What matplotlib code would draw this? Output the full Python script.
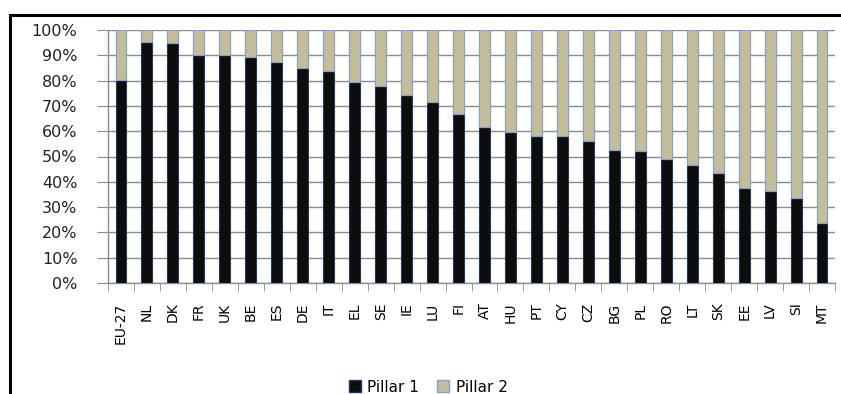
import numpy as np
import matplotlib.pyplot as plt
from matplotlib.patches import Rectangle
from matplotlib.ticker import FixedLocator, FuncFormatter

countries = ["EU-27", "NL", "DK", "FR", "UK", "BE", "ES", "DE", "IT", "EL", "SE", "IE",
             "LU", "FI", "AT", "HU", "PT", "CY", "CZ", "BG", "PL", "RO", "LT", "SK",
             "EE", "LV", "SI", "MT"]
pillar1 = [80.2, 95.1, 94.7, 90.1, 90.0, 89.3, 87.5, 85.0, 83.9, 79.3, 77.7, 74.4,
           71.7, 66.9, 61.5, 59.7, 58.0, 58.0, 56.1, 52.4, 52.0, 48.9, 46.8, 43.5,
           37.7, 36.5, 33.6, 23.6]
pillar2 = [100 - v for v in pillar1]

black = "#0d0d0d"
tan = "#c4bd97"
grid_col = "#8c8c8c"

plt.rcParams["font.family"] = "DejaVu Sans"

W, H = 841, 394
fig = plt.figure(figsize=(W / 100, H / 100), dpi=100)

# outer frame, open on the right and bottom
fig.patches.append(Rectangle((10 / W, -0.1), 1.2, (H - 15) / H + 0.1,
                             transform=fig.transFigure, fill=False,
                             edgecolor="black", linewidth=2.2))

ax = fig.add_axes([108 / W, (H - 283) / H, (835 - 108) / W, 253 / H])
x = np.arange(len(countries))
w = 0.42
ax.bar(x, pillar1, w, color=black, edgecolor="#1f3864", linewidth=0.8,
       label="Pillar 1", zorder=3)
ax.bar(x, pillar2, w, bottom=pillar1, color=tan, edgecolor="#7fa3d1",
       linewidth=0.9, label="Pillar 2", zorder=3)

ax.set_xlim(-0.5, len(countries) - 0.5)
ax.set_ylim(0, 100)
ax.set_yticks(np.arange(0, 101, 10))
ax.yaxis.set_major_formatter(FuncFormatter(lambda v, p: f"{v:.0f}%"))
ax.yaxis.grid(True, color=grid_col, linewidth=1.0, zorder=0)
ax.tick_params(axis="y", length=8, color=grid_col, labelsize=11.5, pad=14,
               labelcolor="#222222")

ax.set_xticks(x)
ax.set_xticklabels(countries, rotation=90, fontsize=10)
ax.tick_params(axis="x", which="major", length=0, pad=14)
ax.xaxis.set_minor_locator(FixedLocator(np.arange(-0.5, len(countries), 1)))
ax.tick_params(axis="x", which="minor", length=6, color=grid_col)

for side in ["top", "right"]:
    ax.spines[side].set_visible(False)
for side in ["left", "bottom"]:
    ax.spines[side].set_color(grid_col)
    ax.spines[side].set_linewidth(1.0)

fig.legend(handles=[Rectangle((0, 0), 1, 1, facecolor=black, edgecolor="#1f3864"),
                    Rectangle((0, 0), 1, 1, facecolor=tan, edgecolor="#7fa3d1")],
           labels=["Pillar 1", "Pillar 2"], loc="center", ncol=2, frameon=False,
           bbox_to_anchor=(428 / W, 1 - 387 / H), fontsize=11,
           handlelength=0.8, handleheight=0.8, handletextpad=0.4, columnspacing=1.2)

fig.savefig("out.png", dpi=100)
